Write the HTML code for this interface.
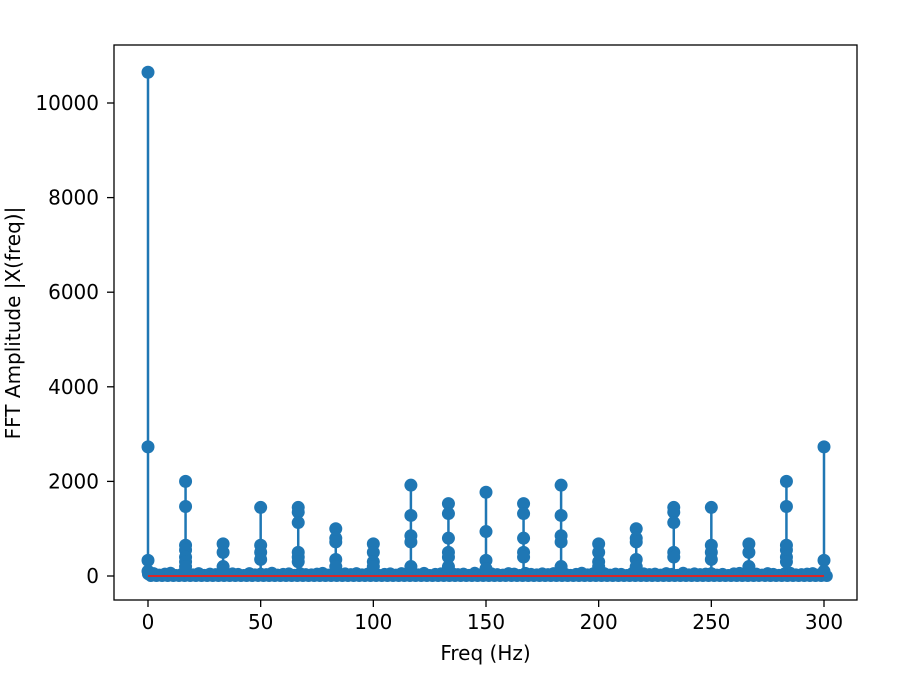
<!DOCTYPE html>
<html><head><meta charset="utf-8"><style>
body{margin:0;background:#fff;}
svg text{font-family:"DejaVu Sans","Liberation Sans",sans-serif;font-size:20px;fill:#000;}
</style></head><body>
<svg id="chart" width="921" height="688" xmlns="http://www.w3.org/2000/svg">
<rect x="0" y="0" width="921" height="688" fill="#fff"/>
<g id="noise"></g>
<g id="stems"></g>
<g id="axes"></g>
</svg>
<script>
const peakFreqs=[0,16.67,33.33,50,66.67,83.33,100,116.67,133.33,150,166.67,183.33,200,216.67,233.33,250,266.67,283.33,300];
const peakValues=[
[10650,2730,330,100],
[2000,1470,650,550,400,300,200],
[680,500,200,100],
[1450,650,500,350],
[1450,1350,1130,500,400,300],
[1000,800,720,350,200],
[680,500,300,200],
[1920,1280,850,720,200],
[1530,1320,800,500,400,200],
[1770,940,330,150],
[1530,1320,800,500,400],
[1920,1280,850,720,200],
[680,500,300,200],
[1000,800,720,350,200],
[1450,1350,1130,500,400],
[1450,650,500,350],
[680,500,200,100],
[2000,1470,650,550,400,300],
[2730,330,100]
];
const noiseStep=2.5;
const noiseValues=[40,60,30,50,70,20,45,55,35,60,25,50,40,65,30,55,45,20,60,35,50,40,70,30,45,55,25,60,40,35,50,65,30,45,20,55,40,60,35,50,70,25,45,55,30,60,40,50,35,65,20,45,55,30,60,40,50,25,70,35,45,55,40,30,60,50,20,65,45,35,55,40,60,30,50,25,45,70,35,55,40,60,30,50,45,20,65,35,55,40,50,30,60,45,25,70,35,55,40,50,60,30,45,20,55,65,35,40,50,30,60,45,25,55,70,35,40,50,60,30,45];
const xTicks=[0,50,100,150,200,250,300];
const yTicks=[0,2000,4000,6000,8000,10000];

const L=114,R=857,T=45,B=600;
const X=f=>148+f*(824-148)/300;
const Y=v=>576-v*(576-103)/10000;
const NS='http://www.w3.org/2000/svg';
function mk(tag,attrs,parent){const e=document.createElementNS(NS,tag);for(const k in attrs)e.setAttribute(k,attrs[k]);parent.appendChild(e);return e;}
const C='#1f77b4';
const noise=document.getElementById('noise');
noiseValues.forEach((v,i)=>{const f=i*noiseStep;
 const l=mk('line',{x1:X(f),x2:X(f),y1:Y(0),y2:Y(v),stroke:C,'stroke-width':2},noise);
 
 
 const c=mk('circle',{cx:X(f),cy:Y(v),r:6,fill:C},noise);
 
 
 const c2=mk('circle',{cx:X(f+1.25),cy:Y(0),r:6,fill:C},noise);
 
 
});
const stems=document.getElementById('stems');
peakFreqs.forEach((f,i)=>{const vals=peakValues[i];const mx=Math.max(...vals);
 const l=mk('line',{x1:X(f),x2:X(f),y1:Y(0),y2:Y(mx),stroke:C,'stroke-width':2.5},stems);
 
 
 vals.forEach(v=>{const c=mk('circle',{cx:X(f),cy:Y(v),r:6.5,fill:C},stems);
  
  });
});
const ax=document.getElementById('axes');
const bl=mk('line',{x1:X(0),x2:X(300),y1:Y(0),y2:Y(0),stroke:'#d62728','stroke-width':2},ax);


const fr=mk('rect',{x:L,y:T,width:R-L,height:B-T,fill:'none',stroke:'#000','stroke-width':1.3},ax);


xTicks.forEach(t=>{mk('line',{x1:X(t),x2:X(t),y1:B,y2:B+7,stroke:'#000','stroke-width':1.3},ax);
 const tx=mk('text',{x:X(t),y:B+29,'text-anchor':'middle'},ax);tx.textContent=t;
 
 });
yTicks.forEach(t=>{mk('line',{x1:L-7,x2:L,y1:Y(t),y2:Y(t),stroke:'#000','stroke-width':1.3},ax);
 const tx=mk('text',{x:L-15,y:Y(t)+7,'text-anchor':'end'},ax);tx.textContent=t;
 
 });
const xl=mk('text',{x:(L+R)/2,y:660,'text-anchor':'middle'},ax);xl.textContent='Freq (Hz)';


const yl=mk('text',{x:0,y:0,'text-anchor':'middle',transform:'translate(20,323) rotate(-90)'},ax);yl.textContent='FFT Amplitude |X(freq)|';


</script>
</body></html>
